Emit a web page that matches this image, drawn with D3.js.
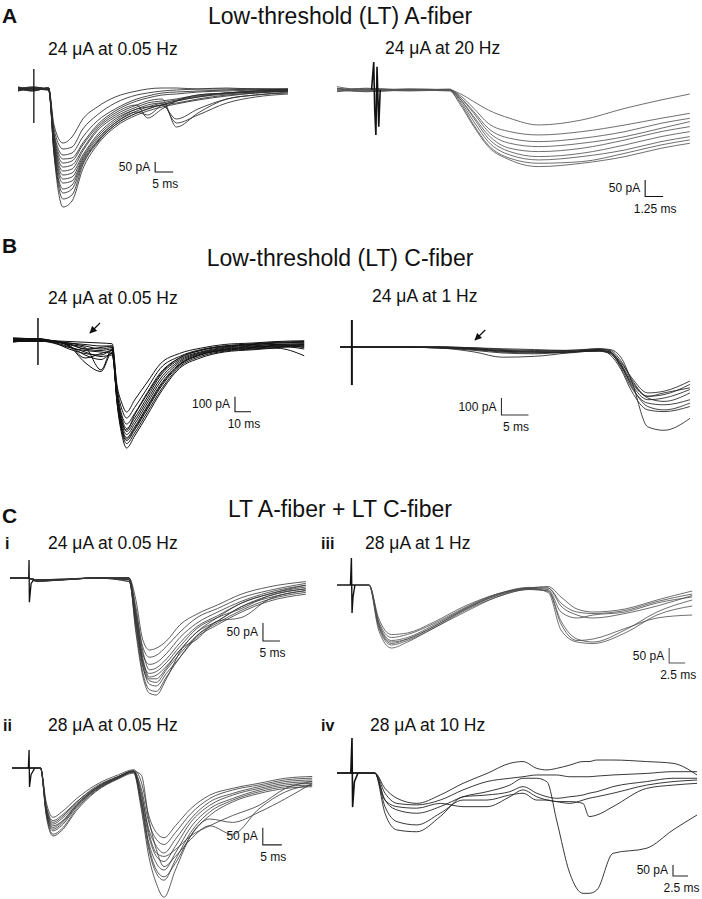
<!DOCTYPE html>
<html><head><meta charset="utf-8">
<script src="https://cdn.jsdelivr.net/npm/d3@7"></script>
<style>
body{margin:0;background:#fff}
svg{display:block}
text{font-family:"Liberation Sans",Arial,Helvetica,sans-serif;fill:#111}
</style>
</head><body>
<svg id="fig" width="702" height="899"></svg>
<script>
// ---------------- DATA (time in ms, current in pA) ----------------
const sectionTitles = ["Low-threshold (LT) A-fiber", "Low-threshold (LT) C-fiber", "LT A-fiber + LT C-fiber"];
const sectionLetters = ["A", "B", "C"];
const subLabels = ["24 μA at 0.05 Hz", "24 μA at 20 Hz", "24 μA at 0.05 Hz", "24 μA at 1 Hz",
                   "24 μA at 0.05 Hz", "28 μA at 1 Hz", "28 μA at 0.05 Hz", "28 μA at 10 Hz"];
const romanLabels = ["i", "iii", "ii", "iv"];
const barCurrents = [50, 50, 100, 100, 50, 50, 50, 50];      // pA
const barTimes = [5, 1.25, 10, 5, 5, 2.5, 5, 2.5];            // ms

// A left: 24 uA at 0.05 Hz
const aLeftTime = [0, 4, 8.5, 10, 12.5, 15, 18, 22, 27, 33, 36, 40, 44, 50, 58, 66, 75];
const aLeftTraces = [
  [5,-5,5,-180,-270,-240,-150,-90,-40,-10,0,5,5,0,0,0,0],
  [-5,5,0,-200,-300,-290,-200,-130,-70,-30,-20,-10,-5,0,5,0,0],
  [0,-5,5,-220,-330,-320,-240,-160,-100,-50,-35,-20,-15,-10,-5,0,-5],
  [10,0,-5,-230,-350,-345,-270,-180,-110,-60,-45,-30,-25,-15,-10,-5,0],
  [-10,5,0,-240,-370,-360,-280,-190,-120,-80,-145,-100,-60,-30,-20,-10,-5],
  [5,-10,5,-250,-390,-380,-300,-200,-130,-80,-60,-50,-190,-120,-50,-30,-20],
  [-5,10,-5,-260,-410,-400,-310,-210,-140,-90,-70,-60,-50,-30,-20,-10,-5],
  [0,5,0,-270,-430,-420,-330,-230,-150,-100,-80,-70,-170,-130,-70,-40,-25],
  [10,-5,5,-280,-450,-440,-340,-240,-160,-100,-90,-80,-60,-40,-25,-15,-10],
  [-10,0,-5,-290,-470,-460,-350,-250,-170,-110,-90,-70,-55,-35,-20,-10,-5],
  [5,5,5,-300,-500,-480,-360,-260,-170,-115,-130,-80,-60,-40,-20,-15,-10],
  [-5,-5,0,-310,-520,-500,-370,-265,-180,-120,-100,-80,-150,-100,-50,-30,-15],
  [0,10,-5,-320,-550,-530,-380,-270,-180,-120,-100,-80,-70,-50,-30,-20,-10],
  [5,-10,5,-330,-590,-560,-400,-280,-190,-130,-110,-90,-75,-55,-35,-20,-10]
];
const aLeftArtT = [4.4, 4.4];
const aLeftArtI = [100, -170];

// A right: 24 uA at 20 Hz
const aRightTime = [0, 2, 5, 7.8, 8.5, 9.5, 10.5, 12, 14, 17, 20, 22.5, 24.5];
const aRightTraces = [
  [5,-5,0,0,-10,-35,-60,-85,-105,-90,-55,-30,-12],
  [-5,5,0,0,-15,-55,-100,-125,-135,-125,-105,-85,-70],
  [0,0,3,0,-20,-65,-115,-145,-155,-145,-125,-100,-85],
  [5,0,0,3,-20,-70,-125,-160,-170,-160,-140,-115,-95],
  [0,-5,0,0,-25,-80,-135,-175,-185,-175,-150,-125,-110],
  [-5,0,-3,0,-25,-85,-145,-185,-200,-190,-165,-140,-125],
  [0,5,0,0,-30,-95,-155,-195,-210,-200,-180,-155,-140],
  [10,0,0,-3,-35,-105,-165,-205,-220,-215,-190,-165,-150],
  [5,0,3,0,-40,-110,-170,-210,-230,-220,-200,-175,-160]
];
const aRightArtT = [2.4, 2.55, 2.62, 2.7, 2.78, 2.9, 3.0];
const aRightArtI = [0, 84, -60, -135, 70, -110, 0];

// B left: 24 uA at 0.05 Hz
const bLeftTime = [0, 15, 25, 35, 45, 55, 62, 65, 68, 71, 76, 84, 92, 104, 117, 132, 150, 165, 182];
const bLeftTraces = [
  [10,0,-5,-10,-15,-20,-25,-300,-420,-480,-400,-280,-160,-90,-55,-30,-20,-10,-5],
  [-10,5,-10,-20,-30,-40,-40,-320,-460,-520,-450,-320,-190,-110,-65,-40,-25,-15,-10],
  [0,-10,-10,-30,-60,-70,-60,-340,-500,-560,-490,-350,-220,-120,-70,-40,-30,-20,-20],
  [15,5,-5,-40,-150,-210,-80,-360,-520,-590,-520,-380,-240,-130,-80,-50,-35,-30,-25],
  [-15,0,-15,-60,-90,-100,-70,-370,-540,-610,-540,-400,-260,-140,-85,-55,-40,-30,-50],
  [5,10,-10,-30,-50,-200,-60,-380,-560,-630,-560,-420,-280,-150,-90,-60,-45,-35,-30],
  [-5,-5,-20,-50,-70,-80,-90,-390,-580,-650,-580,-440,-300,-160,-95,-65,-50,-40,-35],
  [10,5,-5,-20,-40,-60,-50,-400,-600,-670,-600,-460,-320,-170,-100,-70,-55,-45,-40],
  [-10,-10,-10,-40,-100,-130,-90,-410,-610,-690,-620,-480,-340,-180,-110,-75,-60,-50,-45],
  [0,10,-5,-25,-60,-50,-40,-420,-630,-720,-640,-500,-355,-190,-120,-80,-65,-55,-105],
  [5,-5,-15,-45,-80,-110,-100,-380,-550,-600,-500,-360,-230,-120,-70,-45,-30,-20,-15],
  [-5,0,-10,-35,-120,-90,-70,-400,-590,-660,-590,-450,-310,-165,-100,-65,-50,-40,-60]
];
const bLeftArtT = [15.6, 15.6];
const bLeftArtI = [147, -167];

// B right: 24 uA at 1 Hz
const bRightTime = [0, 2, 10, 18, 25, 30, 36, 42, 48, 50, 52, 54, 57, 60, 64.8];
const bRightTraces = [
  [0,0,0,-5,-30,-60,-55,-35,-10,-15,-60,-200,-470,-490,-420],
  [0,0,0,0,-10,-20,-25,-25,-20,-30,-90,-180,-270,-260,-200],
  [0,0,0,-5,-15,-30,-35,-30,-20,-30,-100,-200,-290,-280,-220],
  [0,0,0,0,-5,-15,-20,-25,-25,-40,-110,-220,-310,-300,-250],
  [0,0,0,0,-10,-25,-30,-30,-15,-20,-80,-190,-300,-320,-270],
  [0,0,0,-5,-20,-35,-40,-30,-25,-35,-120,-240,-330,-340,-310],
  [0,0,0,0,-5,-10,-15,-20,-10,-25,-100,-230,-350,-370,-330],
  [0,0,0,0,-15,-25,-30,-35,-20,-30,-110,-210,-290,-270,-240],
  [0,0,0,-5,-10,-20,-25,-20,-15,-45,-130,-260,-370,-380,-350]
];
const bRightArtT = [2.2, 2.2];
const bRightArtI = [159, -224];

// C i: 24 uA at 0.05 Hz
const ciTime = [0, 5, 8, 15, 25, 35, 37, 39, 41, 43, 46, 50, 55, 61, 68, 76, 87];
const ciTraces = [
  [0,0,-5,-5,0,0,-60,-170,-200,-195,-175,-130,-100,-75,-45,-25,-10],
  [0,0,-8,-5,0,0,-80,-190,-220,-215,-190,-150,-110,-85,-55,-35,-15],
  [0,0,-5,-3,0,-5,-100,-210,-240,-235,-210,-165,-125,-95,-65,-40,-20],
  [0,0,-10,-5,0,0,-90,-200,-255,-250,-225,-180,-135,-105,-70,-45,-25],
  [0,0,-5,-5,0,-10,-120,-230,-265,-260,-235,-190,-140,-110,-85,-50,-30],
  [0,0,-8,-5,0,0,-110,-220,-275,-270,-245,-200,-150,-120,-80,-55,-35],
  [0,0,-5,-3,0,-5,-130,-245,-285,-290,-255,-210,-160,-125,-90,-60,-40],
  [0,0,-10,-5,0,0,-120,-240,-295,-300,-265,-220,-165,-130,-95,-65,-45],
  [0,0,-5,-5,0,-5,-140,-260,-310,-315,-275,-220,-160,-120,-80,-50,-30],
  [0,0,-8,-5,0,0,-150,-270,-320,-325,-280,-205,-150,-110,-70,-45,-20],
  [0,0,-5,-5,0,-10,-100,-230,-280,-280,-250,-200,-170,-120,-110,-60,-35]
];
const ciArtT = [5.5, 5.6, 5.7, 6.2, 7];
const ciArtI = [0, 50, -67, -15, -5];

// C iii: 28 uA at 1 Hz
const ciiiTime = [0, 2, 5, 6.5, 8.5, 11, 15, 20, 25, 30, 33, 35, 37.5, 40, 45, 50, 55.5];
const ciiiTraces = [
  [0,0,0,-120,-175,-165,-130,-75,-30,-10,-5,-40,-80,-90,-80,-50,-20],
  [0,0,0,-110,-165,-160,-125,-70,-30,-8,-10,-60,-90,-95,-85,-55,-30],
  [0,0,0,-130,-190,-180,-140,-80,-35,-12,-15,-90,-110,-100,-90,-60,-40],
  [0,0,0,-140,-200,-185,-145,-85,-40,-15,-20,-120,-180,-190,-150,-90,-50],
  [0,0,0,-125,-185,-175,-135,-78,-32,-10,-25,-150,-190,-195,-160,-100,-70],
  [0,0,0,-150,-210,-190,-145,-90,-40,-15,-20,-130,-185,-180,-145,-110,-100],
  [0,0,0,-135,-195,-180,-140,-82,-35,-12,-10,-70,-100,-110,-95,-70,-35]
];
const ciiiArtT = [2.1, 2.25, 2.35, 2.5, 2.8];
const ciiiArtI = [0, 90, -93, -40, 0];

// C ii: 28 uA at 0.05 Hz
const ciiTime = [0, 4, 7.5, 9, 10.8, 13, 17, 22, 28, 32, 34, 36, 38, 40, 43, 47, 52, 58, 65, 72, 79];
const ciiTraces = [
  [0,0,0,-100,-145,-130,-90,-50,-20,-5,-40,-140,-190,-205,-170,-120,-80,-60,-45,-30,-25],
  [0,0,0,-110,-155,-140,-100,-55,-25,-8,-60,-160,-210,-225,-190,-135,-90,-65,-50,-35,-30],
  [0,0,0,-120,-165,-150,-105,-60,-25,-10,-80,-180,-230,-250,-210,-150,-100,-75,-55,-40,-35],
  [0,0,0,-125,-175,-160,-110,-62,-28,-10,-90,-200,-260,-275,-230,-160,-110,-80,-60,-45,-40],
  [0,0,0,-130,-185,-170,-115,-65,-30,-12,-100,-220,-280,-300,-250,-175,-120,-90,-65,-50,-45],
  [0,0,0,-135,-195,-180,-120,-68,-30,-12,-110,-240,-310,-330,-270,-190,-130,-95,-70,-55,-50],
  [0,0,0,-140,-200,-185,-125,-70,-32,-15,-120,-260,-340,-380,-300,-200,-140,-100,-75,-60,-55],
  [0,0,0,-115,-160,-145,-100,-58,-25,-8,-70,-190,-250,-260,-240,-200,-170,-140,-110,-60,-40],
  [0,0,0,-128,-180,-165,-112,-64,-28,-10,-20,-150,-240,-290,-260,-210,-170,-195,-120,-70,-50],
  [0,0,0,-120,-170,-158,-108,-60,-26,-9,-95,-230,-300,-320,-280,-200,-150,-160,-130,-90,-45]
];
const ciiArtT = [4.3, 4.5, 4.6, 5, 6];
const ciiArtI = [0, 53, -56, -20, 0];

// C iv: 28 uA at 10 Hz
const civTime = [0, 6.3, 8, 10, 13.3, 17.2, 21, 25, 28.8, 31, 33.3, 35, 36.6, 38.8, 41, 42, 43.3, 46, 51.6, 56, 60];
const civTraces = [
  [0,0,-70,-115,-138,-100,-47,-2,44,52,21,14,21,36,52,52,59,59,52,44,-9],
  [0,0,-92,-138,-145,-123,-77,-39,-24,-17,-9,-9,-9,-17,-17,-17,-14,-9,-2,6,6],
  [0,0,-123,-168,-183,-153,-108,-85,-55,-24,-24,-40,-214,-456,-547,-547,-532,-365,-342,-259,-191],
  [0,0,-153,-221,-236,-183,-123,-123,-100,-92,-123,-123,-130,-130,-138,-198,-191,-153,-70,-55,-47],
  [0,0,-183,-259,-267,-198,-108,-100,-85,-62,-92,-108,-115,-108,-100,-92,-85,-62,-39,-24,-24],
  [0,0,-123,-153,-160,-138,-153,-153,-108,-77,-108,-123,-130,-138,-123,-115,-108,-92,-55,-39,-32]
];
const civArtT = [2.3, 2.5, 2.6, 2.9, 3.5];
const civArtI = [0, 159, -155, -40, 0];

// arrows in B (tail -> head), [ms, pA]
const bLeftArrow = [[54.4, 113], [48.1, 47]];
const bRightArrow = [[26.9, 100], [25.0, 41]];

// ---------------- LAYOUT ----------------
const svg = d3.select("#fig");

const panels = [
  {time: aLeftTime, traces: aLeftTraces, artT: aLeftArtT, artI: aLeftArtI, x0: 18, y0: 89, kx: 3.6, ky: 0.2,
   color: "#2a2a2a", w: 0.85, artW: 1.3, bar: {t: 38.1, i: -415}, barIdx: 0, barColor: "#111"},
  {time: aRightTime, traces: aRightTraces, artT: aRightArtT, artI: aRightArtI, x0: 337, y0: 90, kx: 14.4, ky: 0.333,
   color: "#555", w: 0.85, artW: 1.6, bar: {t: 21.4, i: -320}, barIdx: 1, barColor: "#111"},
  {time: bLeftTime, traces: bLeftTraces, artT: bLeftArtT, artI: bLeftArtI, x0: 13, y0: 340, kx: 1.6, ky: 0.15,
   color: "#111", w: 1.0, artW: 1.5, bar: {t: 138.75, i: -478}, barIdx: 2, barColor: "#111", arrow: bLeftArrow},
  {time: bRightTime, traces: bRightTraces, artT: bRightArtT, artI: bRightArtI, x0: 340, y0: 347, kx: 5.4, ky: 0.17,
   color: "#222", w: 0.85, artW: 2, bar: {t: 29.9, i: -400}, barIdx: 3, barColor: "#333", arrow: bRightArrow},
  {time: ciTime, traces: ciTraces, artT: ciArtT, artI: ciArtI, x0: 10, y0: 578, kx: 3.4, ky: 0.36,
   color: "#333", w: 0.8, artW: 1.3, bar: {t: 74.4, i: -175}, barIdx: 4, barColor: "#222"},
  {time: ciiiTime, traces: ciiiTraces, artT: ciiiArtT, artI: ciiiArtI, x0: 337, y0: 585, kx: 6.4, ky: 0.3,
   color: "#4a4a4a", w: 0.8, artW: 1.4, bar: {t: 51.9, i: -260}, barIdx: 5, barColor: "#555"},
  {time: ciiTime, traces: ciiTraces, artT: ciiArtT, artI: ciiArtI, x0: 12, y0: 768, kx: 3.8, ky: 0.34,
   color: "#333", w: 0.8, artW: 1.3, bar: {t: 66, i: -226}, barIdx: 6, barColor: "#222"},
  {time: civTime, traces: civTraces, artT: civArtT, artI: civArtI, x0: 337, y0: 773, kx: 6, ky: 0.22,
   color: "#222", w: 0.9, artW: 1.6, bar: {t: 56, i: -468}, barIdx: 7, barColor: "#222"}
];

const defs = svg.append("defs");
defs.append("marker").attr("id", "ah").attr("viewBox", "0 0 10 10").attr("refX", 9).attr("refY", 5)
  .attr("markerWidth", 6).attr("markerHeight", 6).attr("orient", "auto-start-reverse")
  .append("path").attr("d", "M0,0L10,5L0,10z").attr("fill", "#111");

panels.forEach(p => {
  const tMax = d3.max(p.time);
  const x = d3.scaleLinear().domain([0, tMax]).range([p.x0, p.x0 + tMax * p.kx]);
  const y = d3.scaleLinear().domain([0, -100]).range([p.y0, p.y0 + 100 * p.ky]);
  const g = svg.append("g");
  const line = d3.line().x((d, i) => x(p.time[i])).y(d => y(d)).curve(d3.curveMonotoneX);
  g.selectAll("path.trace").data(p.traces).join("path").attr("class", "trace")
    .attr("d", line).attr("fill", "none").attr("stroke", p.color)
    .attr("stroke-width", p.w).attr("stroke-linejoin", "round");
  const aline = d3.line().x(d => x(d[0])).y(d => y(d[1]));
  g.append("path").attr("d", aline(d3.zip(p.artT, p.artI)))
    .attr("fill", "none").attr("stroke", "#111").attr("stroke-width", p.artW);
  // scale bar
  const di = barCurrents[p.barIdx], dt = barTimes[p.barIdx];
  const bx = x(p.bar.t), by = y(p.bar.i), byTop = y(p.bar.i + di), bx2 = x(p.bar.t + dt);
  g.append("path").attr("d", `M${bx},${byTop}V${by}H${bx2}`)
    .attr("fill", "none").attr("stroke", p.barColor).attr("stroke-width", 1.1);
  g.append("text").attr("x", bx - 5).attr("y", (by + byTop) / 2 + 4)
    .attr("text-anchor", "end").attr("font-size", 12).text(di + " pA");
  g.append("text").attr("x", (bx + bx2) / 2 + 1).attr("y", by + 16)
    .attr("text-anchor", "middle").attr("font-size", 12).text(dt + " ms");
  if (p.arrow) {
    g.append("line").attr("x1", x(p.arrow[0][0])).attr("y1", y(p.arrow[0][1]))
      .attr("x2", x(p.arrow[1][0])).attr("y2", y(p.arrow[1][1]))
      .attr("stroke", "#111").attr("stroke-width", 1.2).attr("marker-end", "url(#ah)");
  }
});

// ---------------- TEXT ----------------
const letterPos = [[2, 23], [2, 253], [2, 523]];
sectionLetters.forEach((s, i) => svg.append("text").attr("x", letterPos[i][0]).attr("y", letterPos[i][1])
  .attr("font-size", 21).attr("font-weight", "bold").text(s));
const titleY = [24, 266, 517];
sectionTitles.forEach((s, i) => svg.append("text").attr("x", 340).attr("y", titleY[i])
  .attr("text-anchor", "middle").attr("font-size", 23).text(s));
const subPos = [[48, 55], [385, 54], [48, 304], [372, 302], [48, 549], [365, 549], [48, 731], [370, 731]];
subLabels.forEach((s, i) => svg.append("text").attr("x", subPos[i][0]).attr("y", subPos[i][1])
  .attr("font-size", 17.5).text(s));
const romanPos = [[5, 549], [321, 549], [3, 731], [321, 731]];
romanLabels.forEach((s, i) => svg.append("text").attr("x", romanPos[i][0]).attr("y", romanPos[i][1])
  .attr("font-size", 16).attr("font-weight", "bold").text(s));
</script>
</body></html>
